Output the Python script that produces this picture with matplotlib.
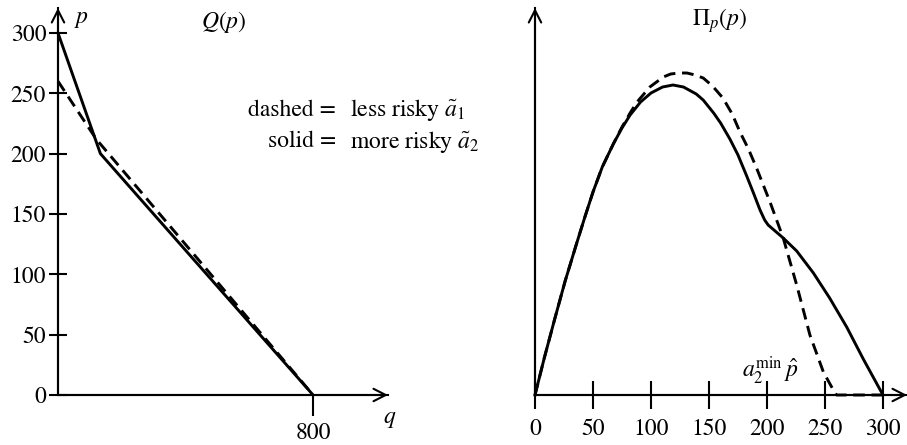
import matplotlib
matplotlib.use("Agg")
import matplotlib.pyplot as plt

plt.rcParams['font.family'] = ['STIXGeneral', 'DejaVu Serif']
plt.rcParams['mathtext.fontset'] = 'stix'

# left panel: demand Q(p)
q_solid = [0, 133, 800]
p_solid = [300, 200, 0]
q_dashed = [0, 120, 800]
p_dashed = [260, 212, 0]
left_yticks = [0, 50, 100, 150, 200, 250, 300]
left_xticks = [800]

# right panel: profit Pi_p(p) (arbitrary units)
pr_solid = [0, 8, 17, 26, 36, 43, 50, 58, 67.5, 75, 82, 91, 100, 110, 119, 128,
            139, 145, 154, 160, 168, 175, 182.5, 188, 194, 198, 201, 207, 214,
            225.6, 240, 254, 268.7, 283, 300]
pi_solid = [0, 37, 76, 114, 152, 178, 203, 228, 251, 267, 280, 293, 302, 308,
            310, 308, 301, 295, 282, 272, 256, 240, 219, 203, 185, 175, 170,
            164, 157, 144, 122, 97, 68, 36, 0]
pr_dashed = [0, 8, 17, 26, 36, 43, 50, 58, 67.5, 75, 82, 88, 99, 110.6, 117,
             124, 131, 138, 145, 153, 162, 170, 176.7, 184, 191, 202.6, 214,
             225.6, 237, 248.6, 258.6, 260, 300]
pi_dashed = [0, 37, 76, 114, 152, 178, 203, 228, 251, 268, 282, 293, 308, 318,
             321, 322, 322, 320, 317, 309, 297, 281, 263, 246, 227, 193, 157,
             110, 60, 23, 2, 0, 0]
right_xticks = [0, 50, 100, 150, 200, 250, 300]

W, H = 907, 445
fig = plt.figure(figsize=(W / 100, H / 100), dpi=100)

def rect(x0, x1, ytop, ybot):
    return [x0 / W, 1 - ybot / H, (x1 - x0) / W, (ybot - ytop) / H]

FS = 17
LW = 2.1
DASH = (0, (4, 2.3))

def setup(ax):
    for s in ['top', 'right']:
        ax.spines[s].set_visible(False)
    for s in ['left', 'bottom']:
        ax.spines[s].set_linewidth(1.5)
    arrow = dict(arrowstyle='->,head_length=0.55,head_width=0.28', lw=1.5,
                 color='black', shrinkA=0, shrinkB=0, mutation_scale=16)
    ax.annotate('', xy=(1, 0), xytext=(0, 0), xycoords='axes fraction',
                arrowprops=arrow, annotation_clip=False)
    ax.annotate('', xy=(0, 1), xytext=(0, 0), xycoords='axes fraction',
                arrowprops=arrow, annotation_clip=False)

# ---- left
ax1 = fig.add_axes(rect(58, 388, 8, 395))
setup(ax1)
ax1.set_xlim(0, 1035)
ax1.set_ylim(0, 320.7)
ax1.plot(q_solid, p_solid, color='black', lw=LW, clip_on=False)
ax1.plot(q_dashed, p_dashed, color='black', lw=LW, ls=DASH, clip_on=False)
ax1.set_yticks(left_yticks)
ax1.set_xticks(left_xticks)
ax1.tick_params(axis='y', direction='inout', length=13, width=1.5,
                labelsize=FS, pad=2)
ax1.tick_params(axis='x', direction='out', length=15, width=1.5,
                labelsize=FS, pad=5)
ax1.text(75, 311, '$p$', fontsize=FS, ha='center', va='center')
ax1.text(521, 309, '$Q(p)$', fontsize=FS, ha='center', va='center')
ax1.text(1041, -20, '$q$', fontsize=FS, ha='center', va='center', clip_on=False)
ax1.text(872, 236, 'dashed =', fontsize=FS, ha='right', va='center')
ax1.text(915, 236, r'less risky $\tilde{a}_1$', fontsize=FS, ha='left', va='center')
ax1.text(872, 210, 'solid =', fontsize=FS, ha='right', va='center')
ax1.text(915, 210, r'more risky $\tilde{a}_2$', fontsize=FS, ha='left', va='center')

# ---- right
ax2 = fig.add_axes(rect(535, 907, 8, 395))
setup(ax2)
ax2.set_xlim(0, 320.7)
ax2.set_ylim(0, 387)
ax2.plot(pr_solid, pi_solid, color='black', lw=LW, clip_on=False)
ax2.plot(pr_dashed, pi_dashed, color='black', lw=LW, ls=DASH, clip_on=False)
ax2.set_xticks(right_xticks)
ax2.set_yticks([])
ax2.tick_params(axis='x', direction='inout', length=20, width=1.5,
                labelsize=FS, pad=7)
ax2.text(159.5, 374, r'$\Pi_p(p)$', fontsize=FS, ha='center', va='center')
ax2.text(202.6, 24, r'$a_2^{\mathrm{min}}\,\hat{p}$', fontsize=FS,
         ha='center', va='center')

fig.savefig('out.png', dpi=100)
